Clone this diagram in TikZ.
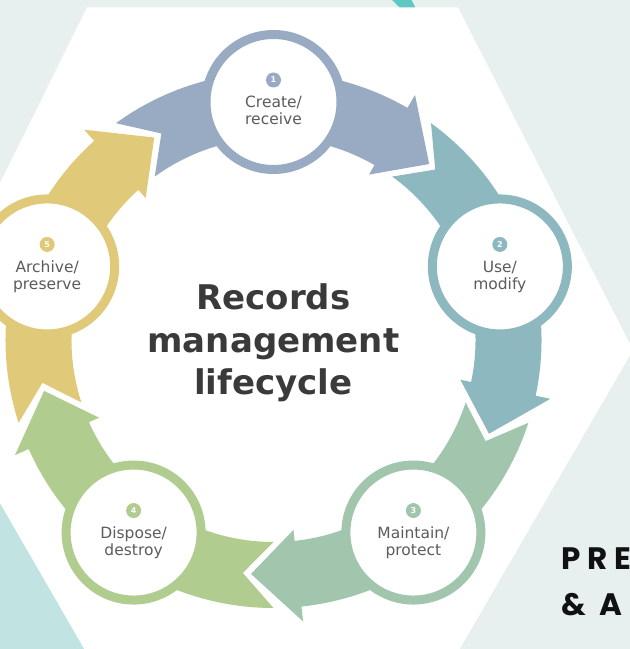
\documentclass[tikz,border=0pt]{standalone}
\usepackage{fontspec}
\setmainfont{DejaVu Sans}
\newfontfamily\popfont[LetterSpace=22]{Poppins}
\usetikzlibrary{calc}
\definecolor{bggrey}{HTML}{E8EFEF}
\definecolor{lightteal}{HTML}{C1E3E2}
\definecolor{brightteal}{HTML}{5EC9C2}
\definecolor{cblue}{HTML}{98ABC3}
\definecolor{cteal}{HTML}{8DB8BF}
\definecolor{cmint}{HTML}{A1C6AD}
\definecolor{cgreen}{HTML}{B1CC8F}
\definecolor{cyellow}{HTML}{E1C97A}
\definecolor{titlegrey}{HTML}{3A3A3A}
\definecolor{labelgrey}{HTML}{5C5C5C}
\definecolor{textblack}{HTML}{111111}
\newcommand\cycseg[2]{%
  \fill[#2] ({#1+36}:268pt) -- ({#1+28.5}:235pt) -- ({#1+36}:202pt)
    arc[start angle={#1+36}, end angle={#1-30}, radius=202pt]
    -- ({#1-30}:191pt) -- ({#1-41.5}:235pt) -- ({#1-30}:283pt) -- ({#1-30}:268pt)
    arc[start angle={#1-30}, end angle={#1+36}, radius=268pt] -- cycle;}
\tikzset{
  ring/.style={circle, fill=white, draw=#1, line width=9pt, minimum size=135pt, inner sep=0pt},
  badge/.style={circle, fill=#1, minimum size=15pt, inner sep=0pt, text=white, font=\fontsize{8}{8}\selectfont\bfseries},
  lbl/.style={align=center, text=labelgrey, font=\fontsize{15.5}{17}\selectfont, inner sep=0pt},
  bigtitle/.style={align=center, text=titlegrey, font=\bfseries\fontsize{34}{42.5}\selectfont, inner sep=0pt},
  cornertext/.style={anchor=base west, inner sep=0pt, text=textblack, font=\popfont\bfseries\fontsize{31}{31}\selectfont}
}
\newcommand\lbltext[2]{\rule{0pt}{12pt}#1\\#2\rule[-4pt]{0pt}{4pt}}
\begin{document}
\begin{tikzpicture}[x=1pt,y=1pt]
\useasboundingbox (0,0) rectangle (630,649);
\clip (0,0) rectangle (630,649);
% background
\fill[bggrey] (0,0) rectangle (630,649);
\fill[brightteal] (391,650) -- (411,650) -- (416,640) -- (401,640) -- cycle;
\fill[lightteal] (-2,150) -- (87,-3) -- (-2,-3) -- cycle;
\fill[white] (87,641.5) -- (458,641.5) -- (633,299) -- (458,-3) -- (86,-3) -- (0,146)
  -- (-2,150) -- (-2,462) -- (0,466) -- cycle;
% cycle
\coordinate (O) at (273.5,309);
\begin{scope}[shift={(O)}]
  \cycseg{90}{cblue}
  \cycseg{18}{cteal}
  \cycseg{-54}{cmint}
  \cycseg{-126}{cgreen}
  \cycseg{162}{cyellow}
\end{scope}
\coordinate (p1) at ($(O)+(90:238pt)$);
\coordinate (p2) at ($(O)+(18:238pt)$);
\coordinate (p3) at ($(O)+(-54:238pt)$);
\coordinate (p4) at ($(O)+(-126:238pt)$);
\coordinate (p5) at ($(O)+(162:238pt)$);
\node[ring=cblue] (n1) at (p1) {};
\node[ring=cteal] (n2) at (p2) {};
\node[ring=cmint] (n3) at (p3) {};
\node[ring=cgreen] (n4) at (p4) {};
\node[ring=cyellow] (n5) at (p5) {};
\node[badge=cblue] (b1) at ($(p1)+(0,22)$) {1};
\node[badge=cteal] (b2) at ($(p2)+(0,22)$) {2};
\node[badge=cmint] (b3) at ($(p3)+(0,22)$) {3};
\node[badge=cgreen] (b4) at ($(p4)+(0,22)$) {4};
\node[badge=cyellow] (b5) at ($(p5)+(0,22)$) {5};
\node[lbl] (t1) at ($(p1)+(0,-10.5)$) {\lbltext{Create/}{receive}};
\node[lbl] (t2) at ($(p2)+(0,-10.5)$) {\lbltext{Use/}{modify}};
\node[lbl] (t3) at ($(p3)+(0,-10.5)$) {\lbltext{Maintain/}{protect}};
\node[lbl] (t4) at ($(p4)+(0,-10.5)$) {\lbltext{Dispose/}{destroy}};
\node[lbl] (t5) at ($(p5)+(0,-10.5)$) {\lbltext{Archive/}{preserve}};
\node[bigtitle] (title) at (273.5,305.8) {Records\\management\\lifecycle};
% corner text
\node[cornertext] (pre) at (561,79) {PRE};
\node[cornertext] (amp) at (561,34) {\& A};
\end{tikzpicture}
\end{document}
